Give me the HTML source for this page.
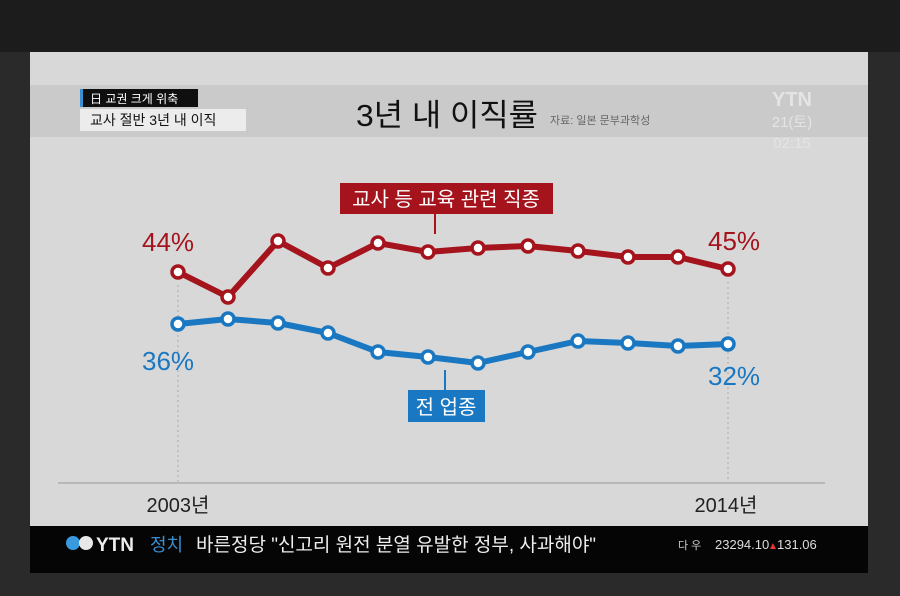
<!DOCTYPE html>
<html><head><meta charset="utf-8"><style>
body{margin:0;width:900px;height:596px;background:#2a2a2a;overflow:hidden;font-family:"Liberation Sans","Noto Sans CJK KR",sans-serif}
</style></head><body>
<svg width="900" height="596" xmlns="http://www.w3.org/2000/svg" style="position:absolute;left:0;top:0" font-family="Liberation Sans, Noto Sans CJK KR, sans-serif">
<rect x="0" y="0" width="900" height="52" fill="#1c1c1c"/>
<rect x="30" y="52" width="838" height="474" fill="#d8d8d8"/>
<rect x="30" y="85" width="838" height="52" fill="#cacaca"/>
<rect x="80" y="89" width="118" height="18" fill="#0f0f0f"/>
<rect x="80" y="89" width="3" height="18" fill="#3a8fd0"/>
<text x="90" y="103" font-size="12" fill="#fff">日 교권 크게 위축</text>
<rect x="80" y="109" width="166" height="22" fill="#ececec"/>
<text x="90" y="125" font-size="14" fill="#111">교사 절반 3년 내 이직</text>
<text x="356" y="126" font-size="31" fill="#111" textLength="182" lengthAdjust="spacingAndGlyphs">3년 내 이직률</text>
<text x="550" y="124" font-size="11" fill="#666">자료: 일본 문부과학성</text>
<text x="792" y="106" font-size="20" font-weight="bold" fill="#e4e4e4" text-anchor="middle">YTN</text>
<text x="792" y="127" font-size="15" fill="#e4e4e4" text-anchor="middle">21(토)</text>
<text x="792" y="148" font-size="15" fill="#e4e4e4" text-anchor="middle">02:15</text>
<line x1="58" y1="483" x2="825" y2="483" stroke="#999" stroke-width="1"/>
<line x1="178" y1="285" x2="178" y2="483" stroke="#aaa" stroke-dasharray="2,3"/>
<line x1="728" y1="282" x2="728" y2="483" stroke="#aaa" stroke-dasharray="2,3"/>
<polyline fill="none" stroke="#a5141d" stroke-width="6" stroke-linejoin="round" points="178,272 228,297 278,241 328,268 378,243 428,252 478,248 528,246 578,251 628,257 678,257 728,269"/>
<g fill="#fff" stroke="#a5141d" stroke-width="3.5">
<circle cx="178" cy="272" r="6"/><circle cx="228" cy="297" r="6"/><circle cx="278" cy="241" r="6"/><circle cx="328" cy="268" r="6"/><circle cx="378" cy="243" r="6"/><circle cx="428" cy="252" r="6"/><circle cx="478" cy="248" r="6"/><circle cx="528" cy="246" r="6"/><circle cx="578" cy="251" r="6"/><circle cx="628" cy="257" r="6"/><circle cx="678" cy="257" r="6"/><circle cx="728" cy="269" r="6"/></g>
<polyline fill="none" stroke="#1a78c2" stroke-width="6" stroke-linejoin="round" points="178,324 228,319 278,323 328,333 378,352 428,357 478,363 528,352 578,341 628,343 678,346 728,344"/>
<g fill="#fff" stroke="#1a78c2" stroke-width="3.5">
<circle cx="178" cy="324" r="6"/><circle cx="228" cy="319" r="6"/><circle cx="278" cy="323" r="6"/><circle cx="328" cy="333" r="6"/><circle cx="378" cy="352" r="6"/><circle cx="428" cy="357" r="6"/><circle cx="478" cy="363" r="6"/><circle cx="528" cy="352" r="6"/><circle cx="578" cy="341" r="6"/><circle cx="628" cy="343" r="6"/><circle cx="678" cy="346" r="6"/><circle cx="728" cy="344" r="6"/></g>
<text x="142" y="251" font-size="26" fill="#a5141d">44%</text>
<text x="708" y="250" font-size="26" fill="#a5141d">45%</text>
<text x="142" y="370" font-size="26" fill="#1a78c2">36%</text>
<text x="708" y="385" font-size="26" fill="#1a78c2">32%</text>
<rect x="340" y="183" width="213" height="31" fill="#a5141d"/>
<line x1="435" y1="214" x2="435" y2="234" stroke="#a5141d" stroke-width="2"/>
<text x="446" y="206" font-size="20" fill="#fff" text-anchor="middle">교사 등 교육 관련 직종</text>
<rect x="408" y="390" width="77" height="32" fill="#1a78c2"/>
<line x1="445" y1="370" x2="445" y2="390" stroke="#1a78c2" stroke-width="2"/>
<text x="446" y="414" font-size="20" fill="#fff" text-anchor="middle">전 업종</text>
<text x="178" y="512" font-size="20" fill="#222" text-anchor="middle">2003년</text>
<text x="726" y="512" font-size="20" fill="#222" text-anchor="middle">2014년</text>
<rect x="30" y="526" width="838" height="47" fill="#050505"/>
<circle cx="73" cy="543" r="7" fill="#3a9ae0"/><circle cx="86" cy="543" r="7" fill="#e8e8e8"/>
<text x="96" y="551" font-size="19" font-weight="bold" fill="#eee">YTN</text>
<text x="150" y="551" font-size="18" fill="#3a8fd0">정치</text>
<text x="196" y="551" font-size="19" fill="#eee">바른정당 "신고리 원전 분열 유발한 정부, 사과해야"</text>
<text x="678" y="549" font-size="11" fill="#ccc">다 우</text>
<text x="715" y="549" font-size="13" fill="#ddd">23294.10</text>
<text x="768" y="549" font-size="10" fill="#e33">▲</text>
<text x="777" y="549" font-size="13" fill="#ddd">131.06</text>
</svg>
</body></html>
